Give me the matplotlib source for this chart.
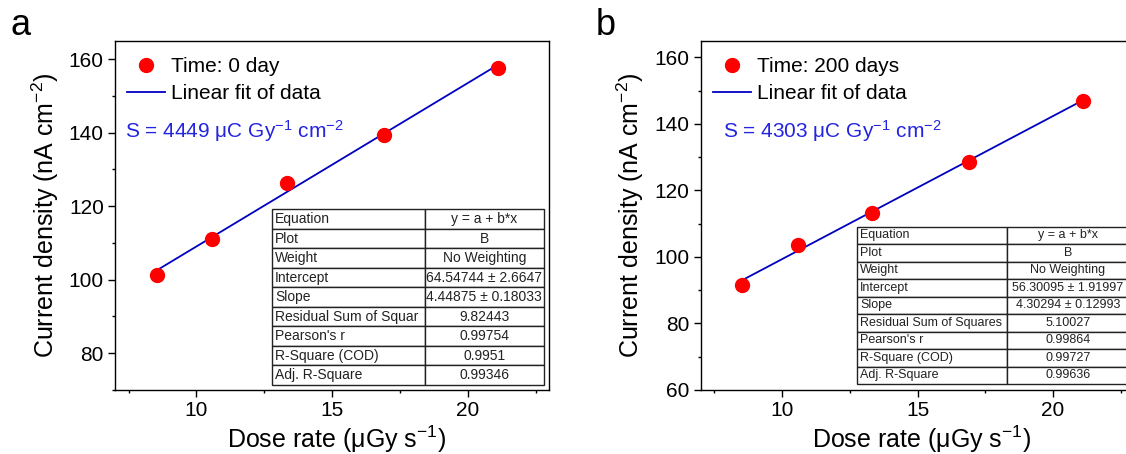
import numpy as np
import matplotlib
matplotlib.use('Agg')
import matplotlib.pyplot as plt
from matplotlib.ticker import MultipleLocator

plt.rcParams['font.family'] = ['Liberation Sans', 'DejaVu Sans']
plt.rcParams['mathtext.fontset'] = 'custom'
plt.rcParams['mathtext.rm'] = 'Liberation Sans'
plt.rcParams['mathtext.it'] = 'Liberation Sans:italic'
plt.rcParams['mathtext.bf'] = 'Liberation Sans:bold'

# DATA
dose_rate = [8.53, 10.59, 13.32, 16.91, 21.10]
current_0d = [101.2, 111.1, 126.3, 139.4, 157.5]
current_200d = [91.7, 103.6, 113.1, 128.5, 146.8]

labels_a = ['Time: 0 day', 'Linear fit of data']
labels_b = ['Time: 200 days', 'Linear fit of data']
sens_a = 'S = 4449 μC Gy$^{-1}$ cm$^{-2}$'
sens_b = 'S = 4303 μC Gy$^{-1}$ cm$^{-2}$'

row_names_a = ['Equation', 'Plot', 'Weight', 'Intercept', 'Slope',
               'Residual Sum of Squar', "Pearson's r", 'R-Square (COD)', 'Adj. R-Square']
row_vals_a = ['y = a + b*x', 'B', 'No Weighting', '64.54744 ± 2.6647', '4.44875 ± 0.18033',
              '9.82443', '0.99754', '0.9951', '0.99346']
row_names_b = ['Equation', 'Plot', 'Weight', 'Intercept', 'Slope',
               'Residual Sum of Squares', "Pearson's r", 'R-Square (COD)', 'Adj. R-Square']
row_vals_b = ['y = a + b*x', 'B', 'No Weighting', '56.30095 ± 1.91997', '4.30294 ± 0.12993',
              '5.10027', '0.99864', '0.99727', '0.99636']

# fit coefficients from the tables
fit_a = (64.54744, 4.44875)
fit_b = (56.30095, 4.30294)


def panel(ax, y, fit, labels, sens, sens_x, ylim, names, vals, tbox, split, tsize):
    x = np.array(dose_rate)
    ax.plot(x, y, 'o', color='red', markersize=10, label=labels[0], zorder=3)
    xf = np.array([x.min(), x.max()])
    ax.plot(xf, fit[0] + fit[1] * xf, color='#0000c0', lw=1.3, label=labels[1], zorder=2)
    ax.set_xlim(7, 23)
    ax.set_ylim(*ylim)
    ax.xaxis.set_major_locator(MultipleLocator(5))
    ax.xaxis.set_minor_locator(MultipleLocator(2.5))
    ax.yaxis.set_major_locator(MultipleLocator(20))
    ax.yaxis.set_minor_locator(MultipleLocator(10))
    ax.tick_params(which='major', direction='out', length=5, width=1, labelsize=15, pad=3)
    ax.tick_params(which='minor', direction='out', length=2.5, width=1)
    for s in ax.spines.values():
        s.set_linewidth(1.0)
    ax.set_xlabel('Dose rate (μGy s$^{-1}$)', fontsize=18)
    ax.set_ylabel('Current density (nA cm$^{-2}$)', fontsize=18)
    ax.xaxis.set_label_coords(0.51, -0.095)
    ax.yaxis.set_label_coords(-0.125, 0.5)
    ax.legend(loc='upper left', bbox_to_anchor=(-0.005, 0.995), frameon=False, fontsize=15,
              handlelength=1.8, handletextpad=0.3, labelspacing=0.4, borderaxespad=0.3)
    ax.text(sens_x, 0.722, sens, transform=ax.transAxes, color='#2424e0', fontsize=15)

    cells = [[n, v] for n, v in zip(names, vals)]
    w = tbox[2]
    tab = ax.table(cellText=cells, bbox=tbox, colWidths=[w * split, w * (1 - split)],
                   zorder=4)
    tab.auto_set_font_size(False)
    tab.set_fontsize(tsize)
    for (r, c), cell in tab.get_celld().items():
        cell.set_linewidth(1.0)
        cell.set_edgecolor('#222222')
        cell.PAD = 0.02
        cell.get_text().set_color('#222222')
        if c == 0:
            cell._loc = 'left'
            cell.get_text().set_horizontalalignment('left')
        else:
            cell._loc = 'center'
            cell.get_text().set_horizontalalignment('center')


fig = plt.figure(figsize=(11.26, 4.54), dpi=100)
ax1 = fig.add_axes([0.1021, 0.141, 0.3859, 0.7694])
ax2 = fig.add_axes([0.6223, 0.141, 0.3852, 0.7694])

panel(ax1, current_0d, fit_a, labels_a, sens_a, 0.024, (70, 165), row_names_a, row_vals_a,
      [0.3613, 0.0143, 0.626, 0.503], 0.561, 10)
panel(ax2, current_200d, fit_b, labels_b, sens_b, 0.052, (60, 165), row_names_b, row_vals_b,
      [0.3609, 0.0172, 0.6264, 0.4503], 0.5495, 9)

fig.text(0.0095, 0.923, 'a', fontsize=26)
fig.text(0.5293, 0.923, 'b', fontsize=26)

fig.savefig('out.png', dpi=100)
